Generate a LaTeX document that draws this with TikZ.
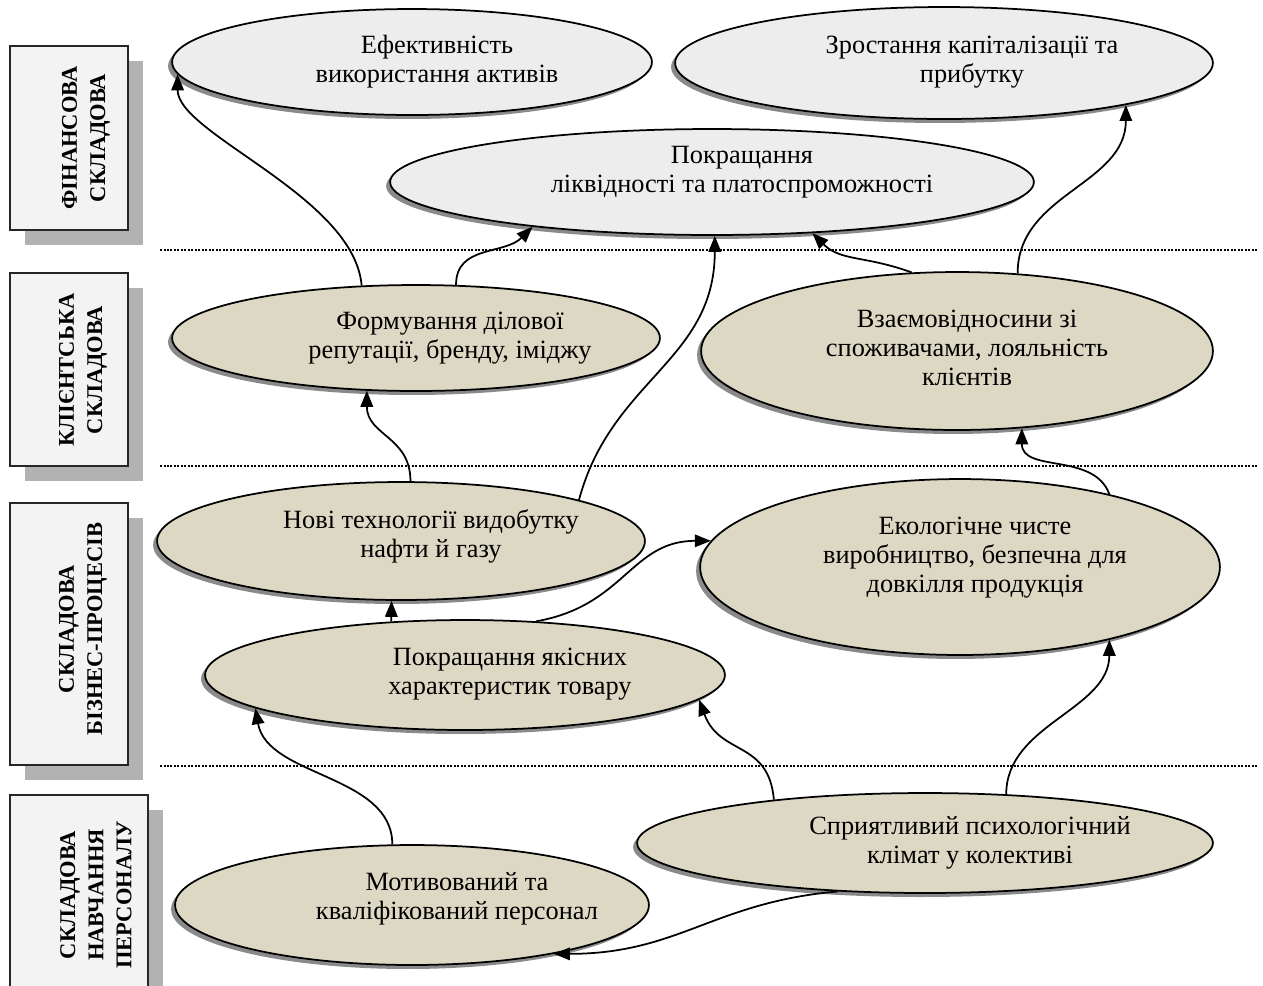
\documentclass[tikz,border=0pt]{standalone}
\usepackage{fontspec}
\setmainfont{Liberation Serif}
\usetikzlibrary{shapes.geometric,shadows,arrows.meta}
\definecolor{beige}{HTML}{DDD8C4}
\definecolor{lgray}{HTML}{EDEDED}
\definecolor{boxfill}{HTML}{F3F3F3}
\definecolor{boxshadow}{HTML}{B2B2B2}
\definecolor{ellshadow}{HTML}{8A8A8A}
\tikzset{
  esize/.style 2 args={minimum width=#1*0.04cm, minimum height=#2*0.04cm},
  ellbase/.style={ellipse, draw=black, line width=0.035cm, inner sep=0pt,
    general shadow={fill=ellshadow, shadow xshift=-0.08cm, shadow yshift=-0.08cm}},
  fin/.style={ellbase, fill=lgray},
  oth/.style={ellbase, fill=beige},
  etext/.style={align=center, font=\fontsize{15}{16.5}\selectfont, inner sep=0pt},
  sidebox/.style={rectangle, draw=black!85, line width=0.03cm, fill=boxfill, inner sep=0pt,
    general shadow={fill=boxshadow, shadow xshift=0.3cm, shadow yshift=-0.3cm}},
  sidetext/.style={rotate=90, align=center, inner sep=0pt, font=\bfseries\fontsize{12.8}{16}\selectfont},
  sepline/.style={line width=0.04cm, dash pattern=on 0.04cm off 0.03cm},
  conn/.style={line width=0.035cm, -{Triangle[length=0.32cm,width=0.25cm]}},
}
\begin{document}
\begin{tikzpicture}[x=0.02cm, y=-0.02cm]
\useasboundingbox (0,0) rectangle (1263,985);
\clip (0,0) rectangle (1263,985);
\fill[white] (0,0) rectangle (1263,985);

% side boxes
\node[sidebox, minimum width=2.36cm, minimum height=3.68cm] (b1) at (69,138) {};
\node[sidebox, minimum width=2.36cm, minimum height=3.86cm] (b2) at (69,369.5) {};
\node[sidebox, minimum width=2.36cm, minimum height=5.24cm] (b3) at (69,634) {};
\node[sidebox, minimum width=2.76cm, minimum height=4.1cm] (b4) at (79,897.5) {};
\node[sidetext] (s1) at (86,138) {ФІНАНСОВА\\СКЛАДОВА};
\node[sidetext] (s2) at (83,370) {КЛІЄНТСЬКА\\СКЛАДОВА};
\node[sidetext] (s3) at (83,629) {СКЛАДОВА\\БІЗНЕС-ПРОЦЕСІВ};
\node[sidetext] (s4) at (96,895) {СКЛАДОВА\\НАВЧАННЯ\\ПЕРСОНАЛУ};

% separators
\draw[sepline] (160,250) -- (1258,250);
\draw[sepline] (160,466) -- (1258,466);
\draw[sepline] (160,766) -- (1258,766);

% ellipses
\node[fin, esize={240}{53}] (e1) at (412,62) {};
\node[fin, esize={269}{56}] (e2) at (944,63) {};
\node[fin, esize={322}{53}] (e3) at (712,182) {};
\node[oth, esize={244}{53}] (e4) at (416,338) {};
\node[oth, esize={256}{79}] (e5) at (957,351) {};
\node[oth, esize={244}{59}] (e6) at (401,541) {};
\node[oth, esize={260}{88}] (e7) at (960,567) {};
\node[oth, esize={260}{55}] (e8) at (465,675) {};
\node[oth, esize={288}{50}] (e9) at (925,843) {};
\node[oth, esize={237}{60}] (e10) at (412,905) {};

% texts
\node[etext] (t1) at (437,62) {Ефективність\\використання активів};
\node[etext] (t2) at (972,62) {Зростання капіталізації та\\прибутку};
\node[etext] (t3) at (742,172) {Покращання\\ліквідності та платоспроможності};
\node[etext] (t4) at (450,338) {Формування ділової\\репутації, бренду, іміджу};
\node[etext] (t5) at (967,348) {Взаємовідносини зі\\споживачами, лояльність\\клієнтів};
\node[etext] (t6) at (431,536) {Нові технології видобутку\\нафти й газу};
\node[etext] (t7) at (975,558) {Екологічне чисте\\виробництво, безпечна для\\довкілля продукція};
\node[etext] (t8) at (510,674) {Покращання якісних\\характеристик товару};
\node[etext] (t9) at (970,843) {Сприятливий психологічний\\клімат у колективі};
\node[etext] (t10) at (457,899) {Мотивований та\\кваліфікований персонал};

% connectors
\draw[conn] (e4.136) .. controls +(95:1.8cm) and +(-90:1.2cm) .. (e1.183);
\draw[conn] (e4.53) .. controls +(90:0.8cm) and +(-135:0.8cm) .. (e3.194);
\draw[conn] (e6.81) .. controls +(90:0.9cm) and +(-90:0.9cm) .. (e4.227);
\draw[conn] (e6.13) .. controls +(75:2.5cm) and +(-90:2.5cm) .. (e3.273);
\draw[conn] (e5.120) .. controls +(160:1cm) and +(-45:0.8cm) .. (e3.333);
\draw[conn] (e5.52) .. controls +(90:1.6cm) and +(-90:1.6cm) .. (e2.347);
\draw[conn] (e7.26) .. controls +(110:0.9cm) and +(-90:0.9cm) .. (e5.310);
\draw[conn] (e8.144) -- (e6.261);
\draw[conn] (e8.37) .. controls +(10:1.8cm) and +(180:1.6cm) .. (e7.174);
\draw[conn] (e10.108) .. controls +(90:1.4cm) and +(-80:1.4cm) .. (e8.189);
\draw[conn] (e9.164) .. controls +(95:1.2cm) and +(-70:1.2cm) .. (e8.354);
\draw[conn] (e9.31) .. controls +(90:1.4cm) and +(-90:1.4cm) .. (e7.334);
\draw[conn] (e9.209) .. controls +(185:2.5cm) and +(0:2.5cm) .. (e10.341);
\end{tikzpicture}
\end{document}
